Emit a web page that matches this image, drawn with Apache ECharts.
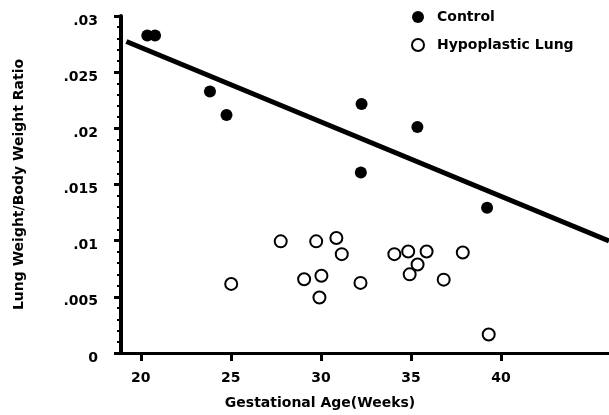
<!DOCTYPE html>
<html>
<head>
<meta charset="utf-8">
<script src="https://cdn.jsdelivr.net/npm/echarts@6/dist/echarts.min.js"></script>
<style>
html,body{margin:0;padding:0;background:#fff;}
#chart{width:609px;height:415px;}
</style>
</head>
<body>
<div id="chart"></div>
<script>
// ---- data ----
const controlAge   = [20.36, 20.79, 23.84, 24.76, 32.26, 32.22, 35.36, 39.23];
const controlRatio = [0.02826, 0.02826, 0.02327, 0.02118, 0.02217, 0.01606, 0.02012, 0.01294];

const hypoAge   = [27.77, 29.74, 30.86, 31.16, 25.02, 29.07, 30.03, 29.92, 32.20, 34.08, 34.85, 35.87, 35.37, 34.93, 36.82, 37.88, 39.32];
const hypoRatio = [0.00994, 0.00994, 0.01024, 0.00880, 0.00615, 0.00656, 0.00688, 0.00494, 0.00624, 0.00880, 0.00903, 0.00903, 0.00788, 0.00700, 0.00653, 0.00894, 0.00165];

const fitAge   = [19.2, 46.0];
const fitRatio = [0.02773, 0.00997];

const xTicks = [20, 25, 30, 35, 40];
const yTickValues = [0, 0.005, 0.01, 0.015, 0.02, 0.025, 0.03];
const yTickLabels = ['0', '.005', '.01', '.015', '.02', '.025', '.03'];

const seriesNames = ['Control', 'Hypoplastic Lung'];
const xTitle = 'Gestational Age(Weeks)';
const yTitle = 'Lung Weight/Body Weight Ratio';

// ---- chart ----
const FONT = 'DejaVu Sans';
const zip = (a, b) => a.map((v, i) => [v, b[i]]);

const chart = echarts.init(document.getElementById('chart'), null, {renderer: 'canvas'});
chart.setOption({
  animation: false,
  backgroundColor: '#fff',
  grid: {left: 121, right: 0, top: 16, bottom: 59, containLabel: false},
  legend: {
    orient: 'vertical',
    left: 406,
    top: 4,
    itemWidth: 12,
    itemHeight: 12,
    itemGap: 12,
    data: seriesNames,
    textStyle: {fontFamily: FONT, fontWeight: 'bold', fontSize: 14, color: '#000', lineHeight: 16, padding: [0, 0, 0, 8]}
  },
  xAxis: {
    type: 'value',
    min: 18.9,
    max: 46.0,
    name: xTitle,
    nameLocation: 'middle',
    nameGap: 43,
    nameTextStyle: {fontFamily: FONT, fontWeight: 'bold', fontSize: 14, color: '#000', padding: [0, 90, 0, 0]},
    splitLine: {show: false},
    axisLine: {show: true, onZero: false, lineStyle: {color: '#000', width: 3}},
    axisTick: {show: true, inside: false, length: 8, lineStyle: {color: '#000', width: 3}, customValues: xTicks},
    axisLabel: {fontFamily: FONT, fontWeight: 'bold', fontSize: 14, color: '#000', margin: 18, customValues: xTicks}
  },
  yAxis: {
    type: 'value',
    min: 0,
    max: 0.03,
    interval: 0.005,
    name: yTitle,
    nameLocation: 'middle',
    nameGap: 95,
    nameTextStyle: {fontFamily: FONT, fontWeight: 'bold', fontSize: 14, color: '#000'},
    splitLine: {show: false},
    axisLine: {show: true, onZero: false, lineStyle: {color: '#000', width: 4}},
    axisTick: {show: true, inside: false, length: 7, lineStyle: {color: '#000', width: 3}},
    minorTick: {show: true, splitNumber: 5, length: 4, lineStyle: {color: '#000', width: 2}},
    axisLabel: {
      fontFamily: FONT, fontWeight: 'bold', fontSize: 14, color: '#000', margin: 23,
      verticalAlign: 'top',
      lineHeight: 10,
      formatter: function (v) {
        for (let i = 0; i < yTickValues.length; i++) {
          if (Math.abs(yTickValues[i] - v) < 1e-9) return yTickLabels[i];
        }
        return '';
      }
    }
  },
  series: [
    {
      name: 'fit',
      type: 'line',
      data: zip(fitAge, fitRatio),
      symbol: 'none',
      lineStyle: {color: '#000', width: 5},
      silent: true,
      z: 1
    },
    {
      name: seriesNames[0],
      type: 'scatter',
      data: zip(controlAge, controlRatio),
      symbol: 'circle',
      symbolSize: 12,
      itemStyle: {color: '#000', opacity: 1},
      z: 3
    },
    {
      name: seriesNames[1],
      type: 'scatter',
      data: zip(hypoAge, hypoRatio),
      symbol: 'circle',
      symbolSize: 12,
      itemStyle: {color: '#fff', borderColor: '#000', borderWidth: 2, opacity: 1},
      z: 3
    }
  ]
});
</script>
</body>
</html>
